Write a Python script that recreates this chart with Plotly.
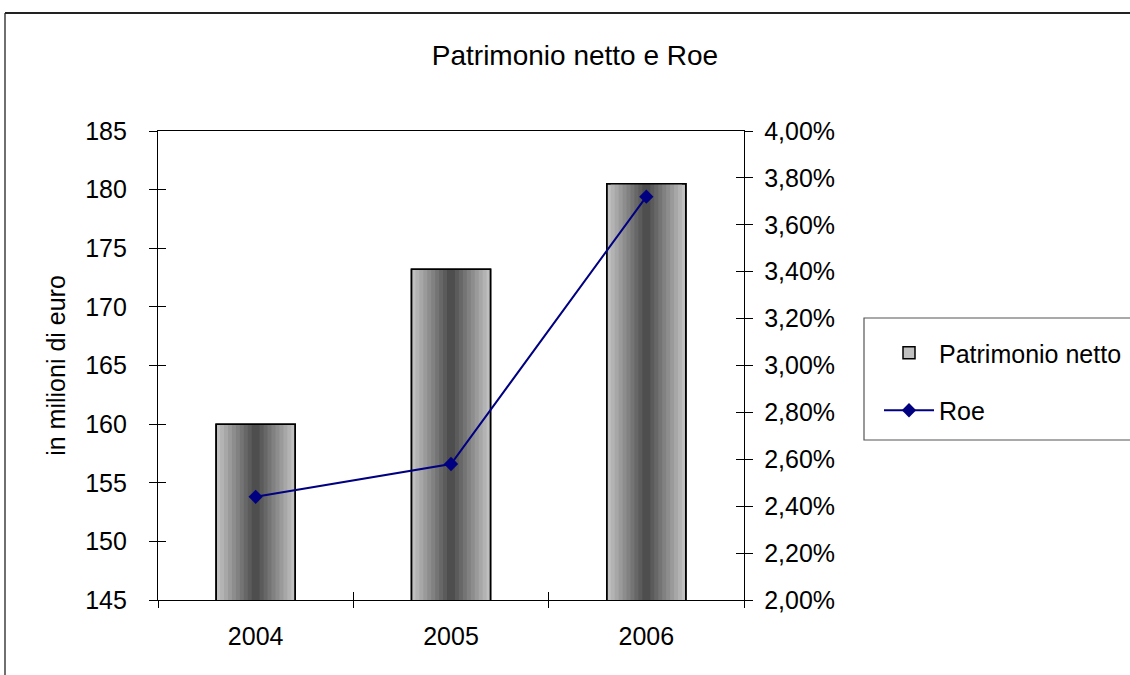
import plotly.graph_objects as go

# ---- data ----
years = ["2004", "2005", "2006"]
patrimonio = [160.0, 173.2, 180.5]          # in milioni di euro
roe = [0.0244, 0.0258, 0.0372]              # Roe, fraction
left_ticks = [145, 150, 155, 160, 165, 170, 175, 180, 185]
right_ticks = [0.020, 0.022, 0.024, 0.026, 0.028, 0.030, 0.032, 0.034, 0.036, 0.038, 0.040]
boundaries = [-0.5, 0.5, 1.5, 2.5]          # category edges on the x axis

FONT = "Liberation Sans, Arial, sans-serif"
W, H = 1130, 675
PL, PR, PT, PB = 158, 744, 131, 600   # plot area in pixels


def px_x(px):
    return (px - PL) / (PR - PL)


def px_y(py):
    return (PB - py) / (PB - PT)


BAR_W = 0.405
N_BANDS = 10
LIGHT = (192, 192, 192)
DARK = (78, 78, 78)

fig = go.Figure()

# Cylinder-like shading: stacked overlay bars, narrowing and darkening toward the centre
for k in range(N_BANDS):
    t = k / (N_BANDS - 1)
    c = tuple(round(LIGHT[i] + (DARK[i] - LIGHT[i]) * t) for i in range(3))
    fig.add_trace(go.Bar(
        x=years, y=patrimonio,
        width=BAR_W * (1 - k / N_BANDS),
        marker=dict(color="rgb(%d,%d,%d)" % c,
                    line=dict(color="black", width=1.5 if k == 0 else 0)),
        name="Patrimonio netto",
        showlegend=(k == 0),
        legendgroup="pn",
        hoverinfo="skip" if k else None,
    ))

# crisp outline on top of the shading
fig.add_trace(go.Bar(
    x=years, y=patrimonio, width=BAR_W,
    marker=dict(color="rgba(0,0,0,0)", line=dict(color="black", width=1.5)),
    showlegend=False, hoverinfo="skip", legendgroup="pn",
))

fig.add_trace(go.Scatter(
    x=years, y=roe, yaxis="y2", name="Roe", legendgroup="roe",
    mode="lines+markers",
    line=dict(color="#000080", width=2),
    marker=dict(symbol="diamond", size=11, color="#000080"),
))

# empty traces so the inner-tick helper axes get drawn
fig.add_trace(go.Scatter(x=[None], y=[None], xaxis="x2", yaxis="y3",
                         showlegend=False, hoverinfo="skip"))
fig.add_trace(go.Scatter(x=[None], y=[None], xaxis="x2", yaxis="y4",
                         showlegend=False, hoverinfo="skip"))

axis_font = dict(family=FONT, size=25, color="black")
tick_common = dict(tickcolor="black", tickwidth=1, showgrid=False, zeroline=False)

fig.update_layout(
    width=W, height=H,
    margin=dict(l=PL, r=W - PR, t=PT, b=H - PB, autoexpand=False),
    paper_bgcolor="white", plot_bgcolor="white",
    barmode="overlay",
    separators=",.",
    font=dict(family=FONT, size=25, color="black"),
    title=dict(text="Patrimonio netto e Roe", font=dict(family=FONT, size=28, color="black"),
               x=575 / W, xanchor="center", xref="container",
               y=1 - 55 / H, yanchor="middle", yref="container"),
    xaxis=dict(
        type="category", range=[-0.5, 2.5],
        showline=True, linecolor="black", linewidth=1.3, mirror=True,
        ticks="outside", ticklen=7, tickson="boundaries",
        tickfont=axis_font, ticklabelstandoff=14, fixedrange=True,
        **tick_common,
    ),
    xaxis2=dict(
        overlaying="x", anchor="y", side="bottom", range=[-0.5, 2.5],
        tickvals=boundaries, ticks="inside", ticklen=8,
        showticklabels=False, showline=False, **tick_common,
    ),
    yaxis=dict(
        range=[145, 185], tickvals=left_ticks,
        showline=True, linecolor="black", linewidth=1.3,
        ticks="outside", ticklen=8,
        tickfont=axis_font, ticklabelstandoff=17,
        title=dict(text="in milioni di euro", font=axis_font, standoff=12),
        automargin=False, **tick_common,
    ),
    yaxis3=dict(
        overlaying="y", side="left", anchor="x2", range=[145, 185], tickvals=left_ticks,
        ticks="inside", ticklen=8,
        showticklabels=False, showline=False, **tick_common,
    ),
    yaxis2=dict(
        overlaying="y", side="right", anchor="x",
        range=[0.02, 0.04], tickvals=right_ticks, tickformat=".2%",
        showline=True, linecolor="black", linewidth=1.3,
        ticks="outside", ticklen=8,
        tickfont=axis_font, ticklabelstandoff=6,
        automargin=False, **tick_common,
    ),
    yaxis4=dict(
        overlaying="y", side="right", anchor="x2",
        range=[0.02, 0.04], tickvals=right_ticks,
        ticks="inside", ticklen=8,
        showticklabels=False, showline=False, **tick_common,
    ),
    legend=dict(
        x=px_x(879), y=px_y(330), xanchor="left", yanchor="top",
        bgcolor="rgba(0,0,0,0)", borderwidth=0,
        font=dict(family=FONT, size=25, color="black"),
        itemwidth=50, tracegroupgap=22, traceorder="grouped",
    ),
    showlegend=True,
)

# legend frame and outer chart frame
fig.add_shape(type="rect", xref="paper", yref="paper",
              x0=px_x(864), x1=px_x(1140), y0=px_y(440), y1=px_y(318),
              line=dict(color="#555555", width=1.2), fillcolor="rgba(0,0,0,0)", layer="below")
fig.add_shape(type="line", xref="paper", yref="paper",
              x0=px_x(5), x1=px_x(1135), y0=px_y(13), y1=px_y(13),
              line=dict(color="#222222", width=2))
fig.add_shape(type="line", xref="paper", yref="paper",
              x0=px_x(5), x1=px_x(5), y0=px_y(13), y1=px_y(680),
              line=dict(color="#222222", width=1.3))

fig.write_html("out.html")
